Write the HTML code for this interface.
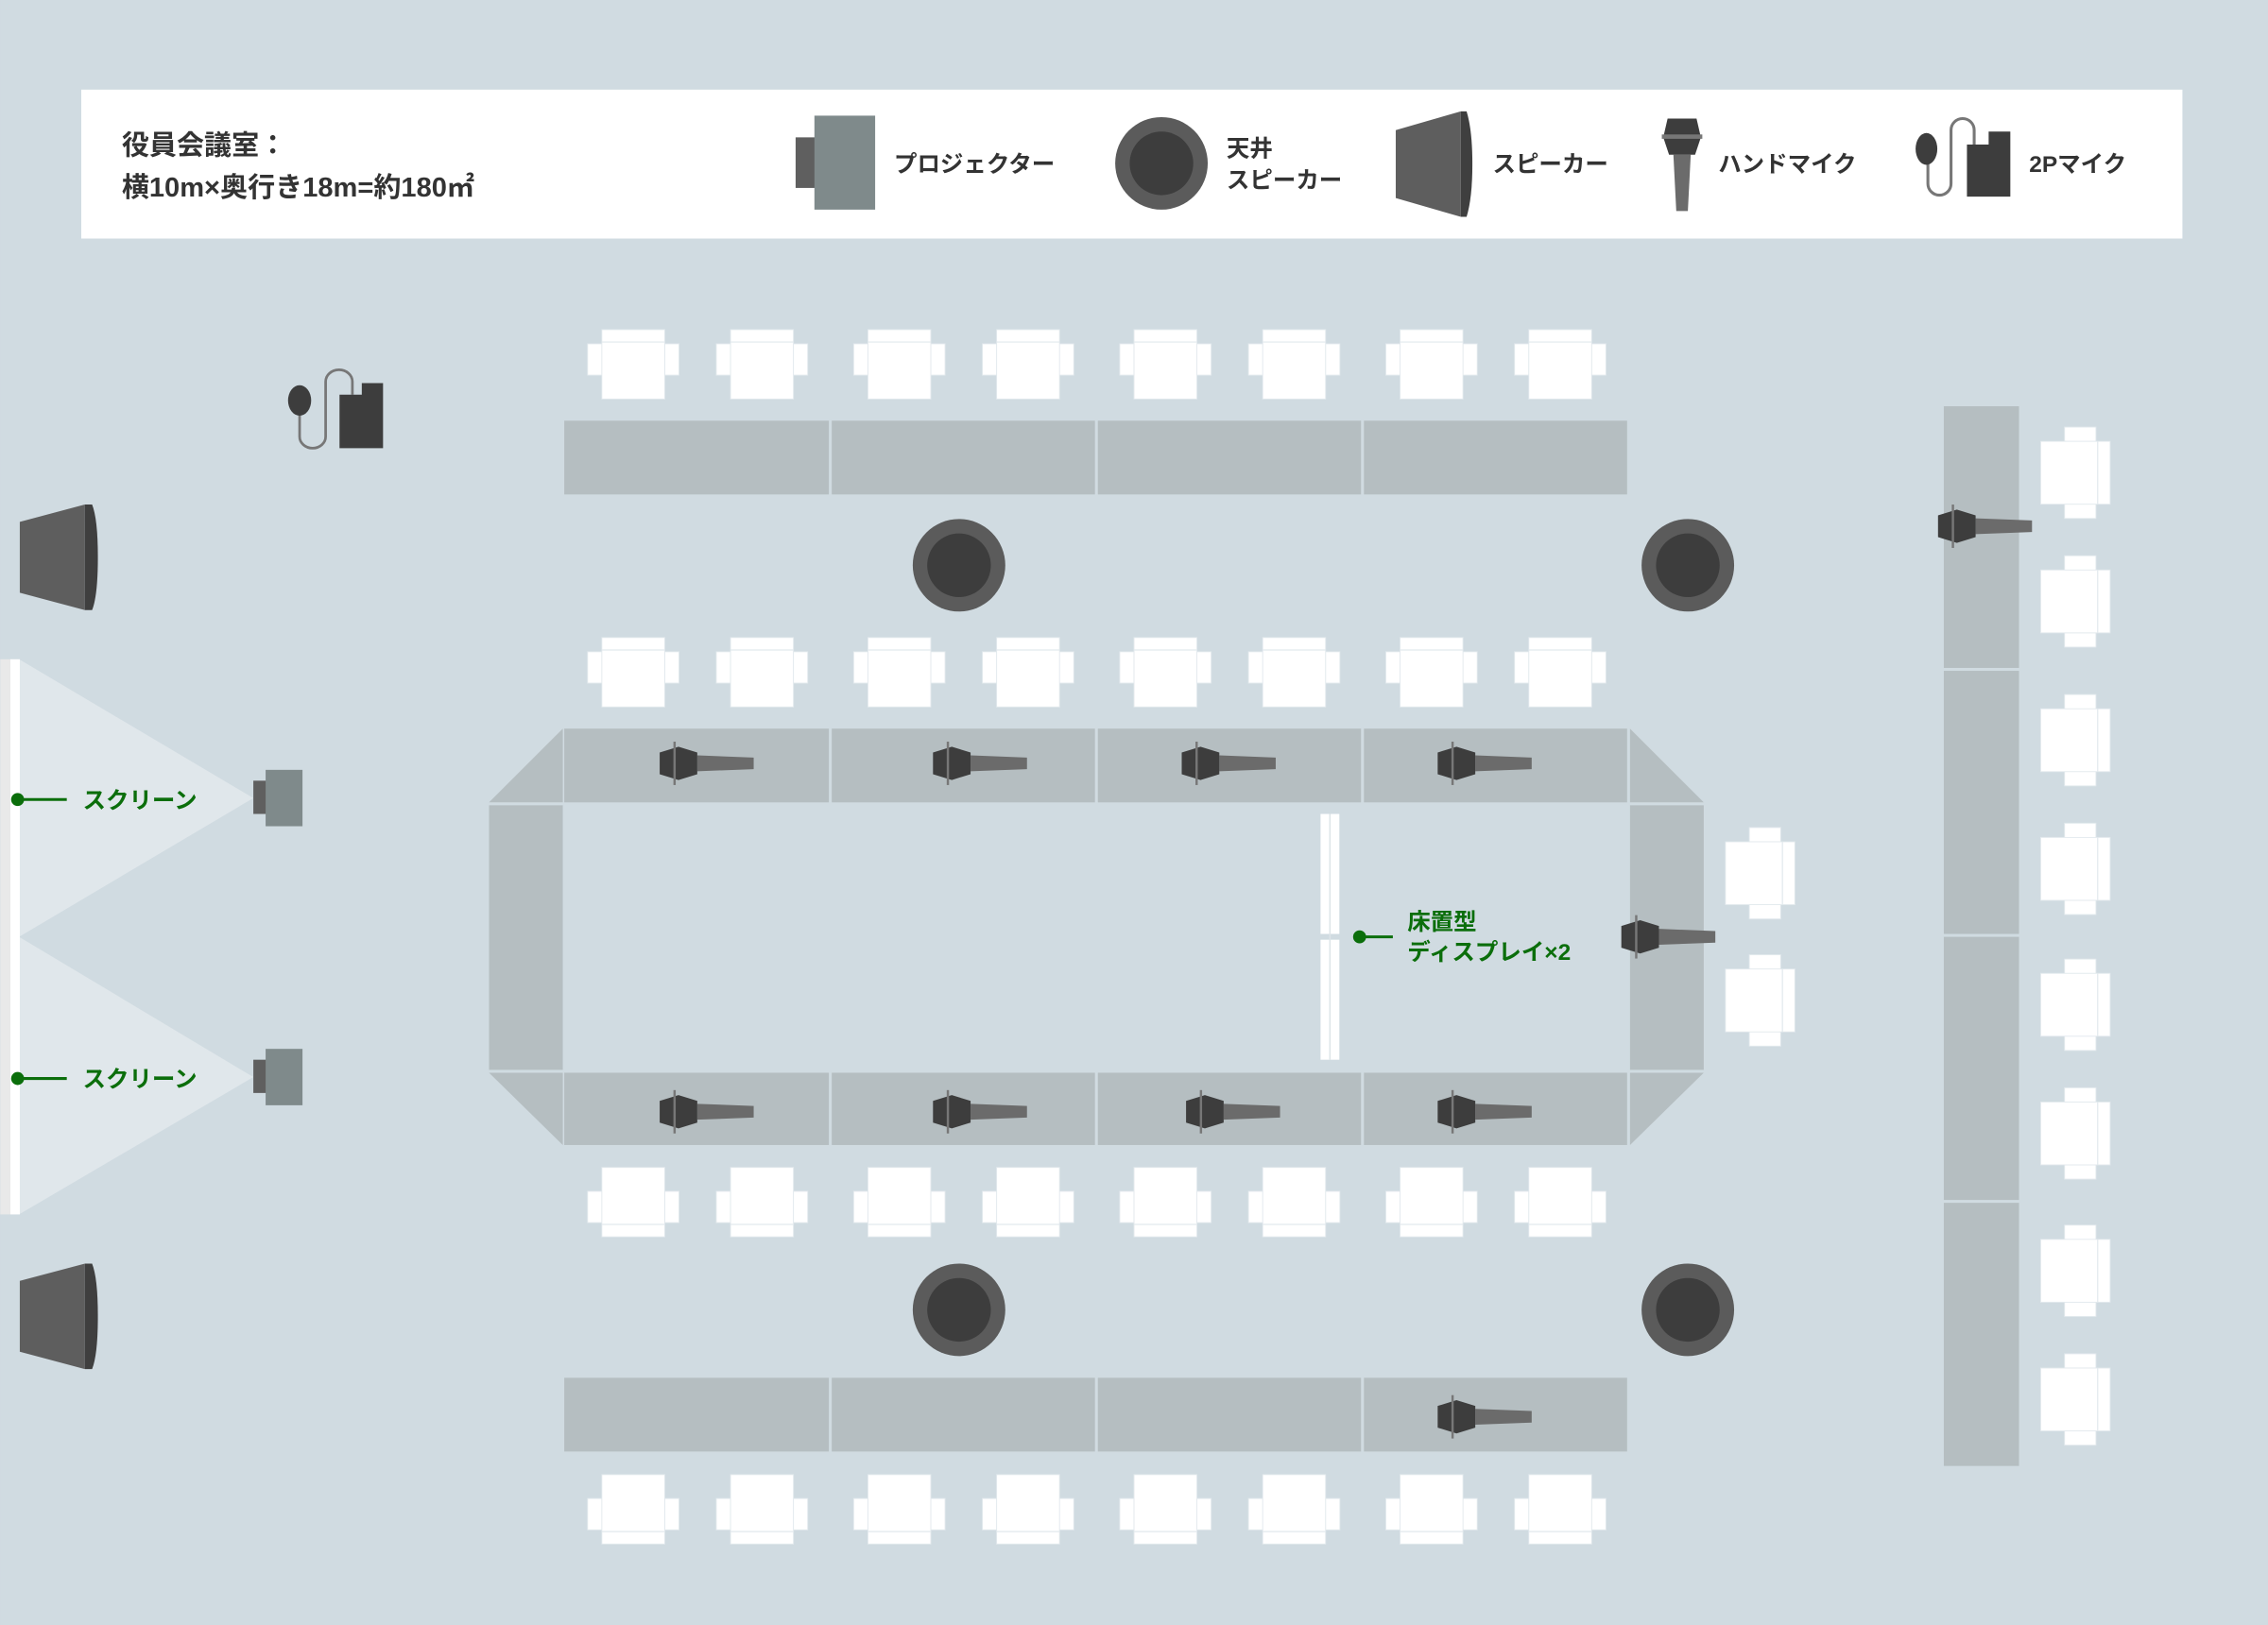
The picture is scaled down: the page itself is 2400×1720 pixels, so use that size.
<!DOCTYPE html>
<html><head><meta charset="utf-8"><style>
html,body{margin:0;padding:0;background:#d0dbe1;}
svg{display:block;}
text{font-family:"Liberation Sans","Noto Sans CJK JP",sans-serif;font-weight:bold;}
</style></head><body>
<svg width="2400" height="1720" viewBox="0 0 1568 1124" xmlns="http://www.w3.org/2000/svg">
<defs>
<g id="chair">
<rect x="-31.6" y="-14.2" width="10" height="21.7" fill="#fff" stroke="#e2e9ed" stroke-width="0.6"/>
<rect x="21.6" y="-14.2" width="10" height="21.7" fill="#fff" stroke="#e2e9ed" stroke-width="0.6"/>
<rect x="-21.75" y="-24" width="43.5" height="48" fill="#fff" stroke="#e2e9ed" stroke-width="0.6"/>
<line x1="-21.75" y1="-15.4" x2="21.75" y2="-15.4" stroke="#e2e9ed" stroke-width="0.8"/>
</g>
<g id="mic">
<polygon points="26,-5.5 65,-4 65,4 26,5.5" fill="#6b6b6b"/>
<polygon points="0,-7.5 13,-11.5 26,-7.5 26,7.5 13,11.5 0,7.5" fill="#3d3d3d"/>
<rect x="9.5" y="-15" width="1.6" height="30" fill="#777"/>
</g>
<g id="cspk">
<circle r="32" fill="#5b5b5b"/><circle r="22" fill="#3d3d3d"/>
</g>
<g id="wspk">
<polygon points="0,12 45,0 45,73 0,61" fill="#5e5e5e"/>
<path d="M45,0 H50 Q54,10 54,36.5 Q54,63 50,73 H45 Z" fill="#3f3f3f"/>
</g>
<g id="proj">
<rect x="0" y="-12" width="9" height="23" fill="#5f5f5f"/>
<rect x="8.5" y="-19.5" width="25.5" height="39" fill="#7f8a8b"/>
</g>
</defs>
<rect width="1568" height="1124" fill="#d0dbe1"/>

<!-- legend -->
<rect x="56" y="62" width="1453" height="103" fill="#fff"/>
<text x="84" y="107" font-size="19" fill="#333">役員会議室：</text>
<text x="84" y="136" font-size="19" fill="#333">横10m×奥行き18m=約180㎡</text>
<rect x="550" y="95" width="15" height="35" fill="#5f5f5f"/>
<rect x="563" y="80" width="42" height="65" fill="#7f8a8b"/>
<text x="618" y="119" font-size="16" fill="#333">プロジェクター</text>
<use href="#cspk" x="803" y="113"/>
<text x="848" y="108" font-size="16" fill="#333">天井</text>
<text x="848" y="130" font-size="16" fill="#333">スピーカー</text>
<polygon points="965,90 1010,77 1010,150 965,137" fill="#5e5e5e"/>
<path d="M1010,77 H1014 Q1018,90 1018,113.5 Q1018,137 1014,150 H1010 Z" fill="#3f3f3f"/>
<text x="1032" y="119" font-size="16" fill="#333">スピーカー</text>
<polygon points="1157,107 1169,107 1167,146 1159,146" fill="#6b6b6b"/>
<polygon points="1153,82 1173,82 1176,95 1172,107 1154,107 1150,95" fill="#3d3d3d"/>
<rect x="1149" y="93" width="28" height="3" fill="#777"/>
<text x="1188" y="119" font-size="16" fill="#333">ハンドマイク</text>
<path d="M1333,110 V127 A8,8 0 0 0 1349,127 V90 A8,8 0 0 1 1365,90 V100" fill="none" stroke="#777" stroke-width="2"/>
<ellipse cx="1332" cy="103" rx="7.5" ry="11" fill="#3d3d3d"/>
<polygon points="1360,100 1375,100 1375,91 1390,91 1390,136 1360,136" fill="#3d3d3d"/>
<text x="1403" y="119" font-size="16" fill="#333">2Pマイク</text>

<!-- 2P mic on floor -->
<path d="M207,285 V302 A9,8 0 0 0 225,302 V264 A9,8 0 0 1 243.5,264 V273" fill="none" stroke="#777" stroke-width="1.8"/>
<ellipse cx="207" cy="277" rx="8" ry="10.5" fill="#3d3d3d"/>
<polygon points="234.6,273 250,273 250,265 264.7,265 264.7,310 234.6,310" fill="#3d3d3d"/>

<!-- wall speakers -->
<use href="#wspk" x="13.5" y="349"/>
<use href="#wspk" x="13.5" y="874"/>

<!-- screens -->
<polygon points="13,456 175,552 13,648" fill="#e0e7eb"/>
<polygon points="13,648 175,745 13,840" fill="#e0e7eb"/>
<rect x="0" y="456" width="7" height="384" fill="#e9e9e9"/>
<rect x="7" y="456" width="6.5" height="384" fill="#fff"/>
<use href="#proj" x="175" y="552"/>
<use href="#proj" x="175" y="745"/>
<circle cx="12" cy="553" r="4.5" fill="#0b6e0b"/><line x1="12" y1="553" x2="46" y2="553" stroke="#0b6e0b" stroke-width="2"/>
<text x="57" y="559" font-size="16" fill="#0b6e0b">スクリーン</text>
<circle cx="12" cy="746" r="4.5" fill="#0b6e0b"/><line x1="12" y1="746" x2="46" y2="746" stroke="#0b6e0b" stroke-width="2"/>
<text x="57" y="752" font-size="16" fill="#0b6e0b">スクリーン</text>

<!-- tables -->
<g fill="#b5bec1">
<rect x="390" y="291" width="183" height="51"/><rect x="575" y="291" width="182" height="51"/><rect x="759" y="291" width="182" height="51"/><rect x="943" y="291" width="182" height="51"/>
<rect x="390" y="504" width="183" height="51"/><rect x="575" y="504" width="182" height="51"/><rect x="759" y="504" width="182" height="51"/><rect x="943" y="504" width="182" height="51"/>
<polygon points="338,555 389,504 389,555"/><polygon points="1127,504 1178,555 1127,555"/>
<rect x="338" y="557" width="51" height="183"/><rect x="1127" y="557" width="51" height="183"/>
<polygon points="338,742 389,742 389,792"/><polygon points="1127,742 1178,742 1127,792"/>
<rect x="390" y="742" width="183" height="50"/><rect x="575" y="742" width="182" height="50"/><rect x="759" y="742" width="182" height="50"/><rect x="943" y="742" width="182" height="50"/>
<rect x="390" y="953" width="183" height="51"/><rect x="575" y="953" width="182" height="51"/><rect x="759" y="953" width="182" height="51"/><rect x="943" y="953" width="182" height="51"/>
<rect x="1344" y="281" width="52" height="181"/><rect x="1344" y="464" width="52" height="182"/><rect x="1344" y="648" width="52" height="182"/><rect x="1344" y="832" width="52" height="182"/>
</g>

<!-- ceiling speakers -->
<use href="#cspk" x="663" y="391"/><use href="#cspk" x="1167" y="391"/>
<use href="#cspk" x="663" y="906"/><use href="#cspk" x="1167" y="906"/>

<!-- display -->
<rect x="913" y="563" width="13" height="83" fill="#fff"/><rect x="913" y="650" width="13" height="83" fill="#fff"/>
<line x1="919.5" y1="563" x2="919.5" y2="733" stroke="#dde4e8" stroke-width="1"/>
<circle cx="940" cy="648" r="4.5" fill="#0b6e0b"/><line x1="940" y1="648" x2="963" y2="648" stroke="#0b6e0b" stroke-width="2"/>
<text x="973" y="643" font-size="16" fill="#0b6e0b">床置型</text>
<text x="973" y="664" font-size="16" fill="#0b6e0b">ディスプレイ×2</text>

<!-- mics -->
<use href="#mic" x="456" y="528"/><use href="#mic" x="645" y="528"/><use href="#mic" x="817" y="528"/><use href="#mic" x="994" y="528"/>
<use href="#mic" x="456" y="769"/><use href="#mic" x="645" y="769"/><use href="#mic" x="820" y="769"/><use href="#mic" x="994" y="769"/>
<use href="#mic" x="994" y="980"/>
<use href="#mic" x="1121" y="648"/>
<use href="#mic" x="1340" y="364"/>

<!-- chairs rows -->
<g>
<use href="#chair" x="437.75" y="252"/><use href="#chair" x="526.75" y="252"/><use href="#chair" x="621.75" y="252"/><use href="#chair" x="710.75" y="252"/>
<use href="#chair" x="805.75" y="252"/><use href="#chair" x="894.75" y="252"/><use href="#chair" x="989.75" y="252"/><use href="#chair" x="1078.75" y="252"/>
<use href="#chair" x="437.75" y="465"/><use href="#chair" x="526.75" y="465"/><use href="#chair" x="621.75" y="465"/><use href="#chair" x="710.75" y="465"/>
<use href="#chair" x="805.75" y="465"/><use href="#chair" x="894.75" y="465"/><use href="#chair" x="989.75" y="465"/><use href="#chair" x="1078.75" y="465"/>
</g>
<g>
<use href="#chair" transform="translate(437.75,831.5) rotate(180)"/><use href="#chair" transform="translate(526.75,831.5) rotate(180)"/><use href="#chair" transform="translate(621.75,831.5) rotate(180)"/><use href="#chair" transform="translate(710.75,831.5) rotate(180)"/>
<use href="#chair" transform="translate(805.75,831.5) rotate(180)"/><use href="#chair" transform="translate(894.75,831.5) rotate(180)"/><use href="#chair" transform="translate(989.75,831.5) rotate(180)"/><use href="#chair" transform="translate(1078.75,831.5) rotate(180)"/>
<use href="#chair" transform="translate(437.75,1044) rotate(180)"/><use href="#chair" transform="translate(526.75,1044) rotate(180)"/><use href="#chair" transform="translate(621.75,1044) rotate(180)"/><use href="#chair" transform="translate(710.75,1044) rotate(180)"/>
<use href="#chair" transform="translate(805.75,1044) rotate(180)"/><use href="#chair" transform="translate(894.75,1044) rotate(180)"/><use href="#chair" transform="translate(989.75,1044) rotate(180)"/><use href="#chair" transform="translate(1078.75,1044) rotate(180)"/>
</g>
<g>
<use href="#chair" transform="translate(1435,327) rotate(90)"/><use href="#chair" transform="translate(1435,416) rotate(90)"/><use href="#chair" transform="translate(1435,512) rotate(90)"/><use href="#chair" transform="translate(1435,601) rotate(90)"/>
<use href="#chair" transform="translate(1435,695) rotate(90)"/><use href="#chair" transform="translate(1435,784) rotate(90)"/><use href="#chair" transform="translate(1435,879) rotate(90)"/><use href="#chair" transform="translate(1435,968) rotate(90)"/>
<use href="#chair" transform="translate(1217,604) rotate(90)"/><use href="#chair" transform="translate(1217,692) rotate(90)"/>
</g>
</svg>
</body></html>
